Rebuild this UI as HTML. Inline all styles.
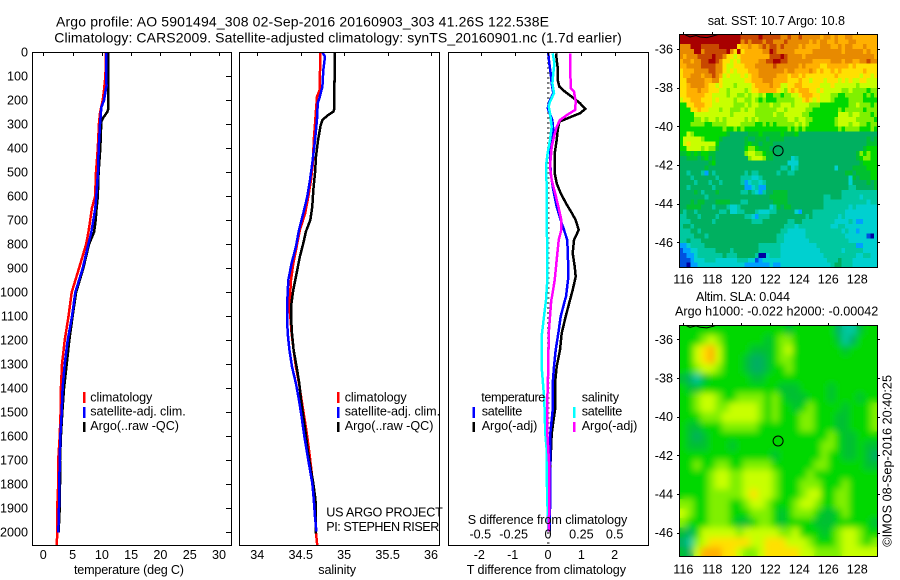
<!DOCTYPE html>
<html lang="en">
<head>
<meta charset="utf-8">
<title>Argo profile 5901494</title>
<style>
html,body{margin:0;padding:0;background:#fff;}
svg{display:block;}
text{font-family:"Liberation Sans",sans-serif;font-size:12.6px;fill:#000;}
text.big{font-size:14px;}
.frame{fill:none;stroke:#000;stroke-width:1;shape-rendering:crispEdges;}
.line{fill:none;stroke-width:2.5;shape-rendering:crispEdges;stroke-linejoin:miter;}
</style>
</head>
<body>
<svg id="chart" xmlns="http://www.w3.org/2000/svg" width="900" height="580" viewBox="0 0 900 580">
<defs>
<clipPath id="clip-temp"><rect x="32.5" y="52" width="199" height="493.5"/></clipPath>
<clipPath id="clip-sal"><rect x="239.5" y="52" width="200" height="493.5"/></clipPath>
<clipPath id="clip-diff"><rect x="448.5" y="52" width="200" height="493.5"/></clipPath>
<clipPath id="clip-map1"><rect x="679.5" y="34.5" width="198" height="233"/></clipPath>
<clipPath id="clip-map2"><rect x="679.5" y="325.5" width="198" height="231"/></clipPath>
<filter id="sla-smooth" x="-5%" y="-5%" width="110%" height="110%"><feGaussianBlur stdDeviation="3.5"/></filter>
</defs>
<rect x="0" y="0" width="900" height="580" fill="#fff"/>

<text class="big" x="56" y="26.7" textLength="493" lengthAdjust="spacing">Argo profile: AO 5901494_308 02-Sep-2016 20160903_303 41.26S 122.538E</text>
<text class="big" x="54.3" y="42.7" textLength="567.5" lengthAdjust="spacing">Climatology: CARS2009. Satellite-adjusted climatology: synTS_20160901.nc (1.7d earlier)</text>

<g id="heat1" clip-path="url(#clip-map1)"></g>
<g id="heat2base" clip-path="url(#clip-map2)"></g>
<g clip-path="url(#clip-map2)"><g id="heat2" filter="url(#sla-smooth)"></g></g>
<g id="coast1" clip-path="url(#clip-map1)"></g>
<g id="coast2" clip-path="url(#clip-map2)"></g>

<g id="lines1" clip-path="url(#clip-temp)"></g>
<g id="lines2" clip-path="url(#clip-sal)"></g>
<g id="lines3" clip-path="url(#clip-diff)"></g>

<rect class="frame" x="32.5" y="52.5" width="199" height="493"/>
<rect class="frame" x="239.5" y="52.5" width="200" height="493"/>
<rect class="frame" x="448.5" y="52.5" width="200" height="493"/>
<rect class="frame" x="679.5" y="34.5" width="198" height="233"/>
<rect class="frame" x="679.5" y="325.5" width="198" height="231"/>
<g id="axes"></g>

<text x="74" y="574" textLength="110" lengthAdjust="spacing">temperature (deg C)</text>
<text x="318.3" y="574" textLength="37.7" lengthAdjust="spacing">salinity</text>
<text x="466.7" y="574" textLength="159.3" lengthAdjust="spacing">T difference from climatology</text>
<text x="467.7" y="524" textLength="159.6" lengthAdjust="spacing">S difference from climatology</text>

<g>
<rect x="83" y="392" width="2.5" height="11" fill="#f00"/>
<rect x="83" y="407" width="2.5" height="11" fill="#00f"/>
<rect x="83" y="422" width="2.5" height="10" fill="#000"/>
<text x="90.3" y="401.7" textLength="62" lengthAdjust="spacing">climatology</text>
<text x="90.3" y="415.7" textLength="95.4" lengthAdjust="spacing">satellite-adj. clim.</text>
<text x="90.3" y="430" textLength="88.7" lengthAdjust="spacing">Argo(..raw -QC)</text>
</g>
<g>
<rect x="337" y="392" width="2.5" height="11" fill="#f00"/>
<rect x="337" y="407" width="2.5" height="11" fill="#00f"/>
<rect x="337" y="422" width="2.5" height="10" fill="#000"/>
<text x="344.7" y="401.7" textLength="62" lengthAdjust="spacing">climatology</text>
<text x="344.7" y="415.7" textLength="95.4" lengthAdjust="spacing">satellite-adj. clim.</text>
<text x="344.7" y="430" textLength="88.7" lengthAdjust="spacing">Argo(..raw -QC)</text>
</g>
<text x="326.3" y="516.7" textLength="116.5" lengthAdjust="spacing">US ARGO PROJECT</text>
<text x="326.3" y="531" textLength="113" lengthAdjust="spacing">PI: STEPHEN RISER</text>

<g>
<text x="481.3" y="401.7" textLength="64" lengthAdjust="spacing">temperature</text>
<rect x="472.5" y="407" width="2.5" height="11" fill="#00f"/>
<rect x="472.5" y="422" width="2.5" height="10" fill="#000"/>
<text x="481.7" y="415.7" textLength="40.6" lengthAdjust="spacing">satellite</text>
<text x="481.7" y="430" textLength="55.6" lengthAdjust="spacing">Argo(-adj)</text>
<text x="581.7" y="401.7" textLength="37.3" lengthAdjust="spacing">salinity</text>
<rect x="573" y="407" width="2.5" height="11" fill="#0ff"/>
<rect x="573" y="422" width="2.5" height="10" fill="#f0f"/>
<text x="581.7" y="415.7" textLength="40.6" lengthAdjust="spacing">satellite</text>
<text x="581.7" y="430" textLength="55.6" lengthAdjust="spacing">Argo(-adj)</text>
</g>

<text x="707.7" y="25" textLength="137.3" lengthAdjust="spacing">sat. SST: 10.7 Argo: 10.8</text>
<text x="696" y="301" textLength="94" lengthAdjust="spacing">Altim. SLA: 0.044</text>
<text x="675" y="315.7" textLength="203.3" lengthAdjust="spacing">Argo h1000: -0.022 h2000: -0.00042</text>
<text transform="translate(891.7 546.7) rotate(-90)" x="0" y="0" textLength="171.7" lengthAdjust="spacing">©IMOS 08-Sep-2016 20:40:25</text>
</svg>

<script>
// ---- tick values ----
const depthTicks = [0,100,200,300,400,500,600,700,800,900,1000,1100,1200,1300,1400,1500,1600,1700,1800,1900,2000];
const tempTicks = [0,5,10,15,20,25,30];
const salTicks = [34,34.5,35,35.5,36];
const tDiffTicks = [-2,-1,0,1,2];
const sDiffTicks = [-0.5,-0.25,0,0.25,0.5];
const lonTicks = [116,118,120,122,124,126,128];
const latTicks = [-36,-38,-40,-42,-44,-46];

// ---- temperature panel ----
const tempClimDepth = [0,100,150,200,250,300,400,500,600,650,700,750,800,900,1000,1100,1200,1300,1400,1500,1600,1700,1800,1900,2000,2054];
const tempClim = [10.7,10.6,10.4,10.15,9.7,9.5,9.3,9.0,8.85,8.3,8.0,7.7,7.3,6.1,4.85,4.3,3.65,3.2,3.0,2.95,2.8,2.55,2.55,2.38,2.38,2.3];
const tempArgoDepth = [0,240,250,270,290,400,500,600,650,700,750,800,900,1000,1100,1200,1300,1400,1500,1600,1700,1800,1900,2000];
const tempArgo = [11.05,11.05,10.9,10.3,9.9,9.74,9.45,9.3,9.1,8.95,8.66,7.8,6.83,5.6,5.0,4.44,4.0,3.53,3.25,3.0,2.85,2.85,2.8,2.62];
const tempSatDepth = [0,100,140,150,200,230,300,400,500,600,650,700,750,800,900,1000,1100,1200,1300,1400,1500,1600,1700,1800,1900,2000];
const tempSat = [10.7,10.7,10.8,10.7,10.36,9.9,9.68,9.46,9.34,9.05,8.88,8.54,8.2,7.68,6.72,5.47,4.9,4.16,3.65,3.3,3.14,2.9,2.8,2.74,2.68,2.56];

// ---- salinity panel ----
const salClimDepth = [0,157,185,282,365,462,532,601,671,740,810,879,949,1060,1101,1171,1240,1310,1379,1449,1518,1588,1657,1726,1796,1865,2003,2053];
const salClim = [34.725,34.718,34.687,34.668,34.65,34.64,34.618,34.587,34.55,34.49,34.453,34.415,34.388,34.37,34.38,34.395,34.418,34.445,34.48,34.51,34.54,34.57,34.595,34.618,34.64,34.664,34.676,34.69];
const salArgoDepth = [0,122,123,240,247,261,282,303,365,435,504,574,643,699,747,796,851,921,990,1060,1101,1171,1240,1310,1379,1449,1518,1588,1657,1726,1796,1865,2005];
const salArgo = [34.894,34.894,34.883,34.883,34.875,34.818,34.75,34.73,34.70,34.676,34.664,34.645,34.633,34.61,34.56,34.53,34.49,34.453,34.415,34.388,34.388,34.40,34.418,34.453,34.484,34.503,34.53,34.557,34.58,34.61,34.645,34.67,34.675];
const salSatDepth = [0,18,74,143,185,212,268,324,393,462,532,601,671,740,810,879,949,1060,1101,1171,1240,1310,1379,1449,1518,1588,1657,1726,1796,1865,1935,1997];
const salSat = [34.75,34.78,34.76,34.75,34.72,34.695,34.69,34.676,34.656,34.633,34.607,34.576,34.53,34.48,34.445,34.395,34.357,34.342,34.342,34.35,34.37,34.40,34.445,34.48,34.51,34.537,34.568,34.6,34.633,34.65,34.664,34.68];

// ---- difference panel ----
const zeroLineDepth = [0,2050];
const zeroLineDiff = [0,0];
const tSatDepth = [4,46,88,129,171,206,233,282,324,365,421,504,574,643,699,740,782,865,949,1018,1032,1101,1171,1240,1310,1379,1490,1588,1726,1865,1997];
const tSatDiff = [0.01,0.04,0.08,0.11,0.16,0.04,-0.01,0.13,0.16,0.11,0.06,0.08,0.16,0.26,0.38,0.48,0.58,0.60,0.60,0.54,0.51,0.38,0.31,0.23,0.18,0.14,0.14,0.07,0.06,0.07,0.04];
const tArgoDepth = [4,32,74,115,143,164,185,212,236,254,268,289,324,365,421,504,546,587,629,671,699,740,782,837,893,935,990,1032,1101,1171,1240,1310,1379,1490,1588,1726,1865,1997];
const tArgoDiff = [0.24,0.26,0.30,0.29,0.34,0.51,0.71,0.96,1.12,0.96,0.71,0.34,0.29,0.26,0.20,0.20,0.26,0.38,0.54,0.72,0.83,0.92,0.78,0.74,0.80,0.83,0.74,0.66,0.53,0.41,0.36,0.26,0.21,0.21,0.11,0.07,0.06,0.06];
const sSatDepth = [4,46,88,129,171,206,226,254,310,365,421,476,560,699,837,949,1032,1101,1171,1310,1365,1449,1588,1657,1754,1865,1997];
const sSatDiff = [0.035,0.048,0.04,0.033,0.045,0.015,0.005,0.015,0.028,0.015,-0.003,-0.015,-0.01,-0.01,-0.005,-0.005,-0.015,-0.03,-0.045,-0.048,-0.04,-0.028,-0.02,-0.01,-0.01,-0.005,0.0025];
const sArgoDepth = [4,150,164,206,240,262,282,310,352,393,476,532,587,643,699,740,782,865,949,1018,1032,1101,1171,1310,1449,1588,1726,1865,1997];
const sArgoDiff = [0.165,0.17,0.195,0.208,0.203,0.14,0.09,0.065,0.045,0.028,0.015,0.028,0.053,0.078,0.10,0.10,0.08,0.065,0.05,0.03,0.025,0.015,0.005,0.0025,-0.005,-0.005,0.01,0.01,0.005];

// ---- map values (colour-scale level per cell) ----
const sstLevels = [
[14,14,14,14,14,14,14,14,14,14,14,14,14,14,14,14,14,13,13,13,13,13,14,13,13,13,13,13,12,12,13,12,12,13,12,12,12,12,12,11,12,12,11,12,11,11,12,12,11,11,11,11,11,11,11],
[14,14,14,14,14,14,14,14,14,14,14,14,14,14,14,14,14,12,13,12,13,13,13,12,13,13,12,12,12,13,12,12,12,12,12,12,11,12,11,12,12,11,11,12,11,11,11,12,12,11,11,11,11,11,11],
[12,12,12,14,14,14,13,13,13,13,13,14,14,14,14,14,10,11,11,12,11,11,12,13,12,13,13,12,13,12,12,12,12,11,12,11,11,11,11,12,12,12,11,11,12,11,12,12,11,11,11,12,11,11,11],
[12,12,12,12,14,14,12,13,13,13,13,13,13,14,12,10,14,10,11,11,11,11,11,12,12,14,13,12,12,12,12,12,11,11,11,11,11,12,12,12,12,12,12,12,12,11,12,12,12,12,12,11,12,11,11],
[12,11,12,12,12,13,13,13,13,14,13,13,12,10,10,9,10,11,11,11,11,11,11,11,11,13,13,13,14,13,12,12,12,12,11,12,12,12,12,12,12,12,12,12,12,12,12,12,12,12,12,12,12,12,11],
[11,12,12,11,12,12,13,13,14,14,13,12,10,10,9,10,9,11,11,11,11,11,12,12,13,13,14,14,13,13,12,12,12,12,12,12,12,11,11,11,11,11,12,12,12,11,12,12,11,11,12,12,13,12,12],
[11,11,12,12,12,12,13,13,13,13,12,12,10,9,9,10,10,10,11,11,11,12,12,12,12,12,13,12,12,12,12,12,12,11,12,11,11,11,11,10,10,11,11,11,11,11,11,10,11,10,10,10,10,10,10],
[10,11,11,11,12,12,12,12,13,13,12,12,10,9,10,9,10,10,10,11,11,11,12,12,12,12,12,12,12,11,12,12,11,11,11,11,12,11,10,11,10,10,11,10,11,10,10,10,10,10,10,11,10,10,10],
[10,11,11,12,12,12,11,12,12,13,12,11,9,10,9,9,9,10,9,10,11,11,12,12,12,12,12,11,11,11,10,11,11,10,11,10,10,10,10,10,10,10,10,11,10,10,10,10,10,10,9,10,10,9,10],
[10,10,12,12,12,12,12,11,11,12,12,10,9,9,9,9,9,9,10,10,11,11,11,12,12,12,11,11,11,11,10,10,10,11,10,10,9,10,10,10,9,10,10,10,9,10,9,10,9,9,10,10,9,9,9],
[10,10,11,12,12,12,12,11,10,10,9,10,9,9,9,8,9,9,9,9,10,11,11,11,11,12,11,11,9,9,10,10,11,11,10,10,10,10,10,9,9,9,10,9,9,9,9,9,9,8,9,9,9,9,9],
[10,10,11,11,11,12,11,11,10,10,10,9,9,8,9,9,9,9,8,9,10,10,11,11,11,11,11,10,9,8,10,11,10,11,11,11,10,10,9,10,9,9,9,9,9,8,8,9,8,8,8,8,7,8,8],
[10,10,11,11,11,11,11,10,10,9,9,9,9,8,9,9,8,8,9,8,9,9,8,9,7,7,8,8,7,8,8,9,9,10,11,11,11,10,10,9,9,9,8,8,7,7,8,8,8,8,8,7,8,7,8],
[9,10,10,11,11,11,10,10,10,9,10,9,9,9,9,8,9,9,8,8,9,8,7,8,7,7,7,8,8,8,8,8,9,9,10,11,10,9,10,9,9,9,8,7,7,7,7,8,8,8,8,7,7,7,7],
[7,7,10,10,11,11,11,10,10,9,9,9,9,9,9,8,8,8,9,8,9,9,8,8,8,9,8,8,9,9,9,8,9,9,9,9,8,8,8,7,7,7,7,7,7,7,7,8,8,9,8,8,8,7,8],
[7,7,7,10,10,11,10,10,9,9,9,8,9,9,8,8,8,9,8,9,9,8,8,8,8,8,8,9,9,8,9,9,9,9,9,8,8,7,7,7,7,7,7,7,8,7,8,8,8,8,8,7,8,8,8],
[7,7,7,7,9,9,9,9,9,9,9,9,9,9,8,9,9,9,9,9,9,8,8,8,8,8,9,8,8,9,9,9,9,9,8,8,7,7,7,7,7,7,7,7,9,9,9,8,9,9,8,8,8,7,8],
[7,7,7,7,8,8,9,8,9,9,8,9,8,9,9,9,9,9,8,9,8,9,8,8,8,8,8,8,8,8,9,9,8,9,9,8,8,7,7,7,7,7,7,8,9,9,9,9,9,8,8,8,8,8,7],
[7,7,7,8,8,8,8,7,7,8,8,8,8,9,9,9,9,8,8,8,8,7,7,8,7,8,7,8,8,8,8,8,9,8,9,8,7,7,7,7,7,7,7,8,9,9,9,8,9,9,8,8,7,8,8],
[7,7,7,7,7,7,7,7,7,7,7,7,8,7,7,8,7,8,7,7,7,7,7,7,7,7,7,7,7,7,8,7,8,7,8,7,7,7,7,7,7,7,7,7,8,7,8,8,8,8,7,7,7,8,7],
[7,7,9,8,7,7,7,7,7,7,7,7,7,6,5,5,5,5,5,6,6,6,7,6,6,6,6,6,7,6,6,6,7,5,5,5,5,5,5,5,5,5,5,5,5,5,5,5,5,5,5,5,5,5,5],
[7,9,9,9,9,9,8,7,7,7,7,6,5,5,5,5,5,5,6,5,5,6,6,6,5,6,6,6,6,5,5,5,5,5,5,5,5,5,5,5,5,5,5,5,5,5,5,5,5,5,5,5,6,5,6],
[7,9,10,9,9,9,9,9,9,9,7,5,5,5,5,5,5,5,6,7,6,6,5,6,6,6,5,5,5,5,5,5,5,5,5,5,5,5,5,5,5,5,5,5,5,5,5,5,5,5,5,5,6,6,6],
[7,7,9,9,9,9,8,9,8,8,6,5,5,5,5,5,5,5,7,8,8,7,6,6,6,5,5,5,5,5,5,5,5,5,5,5,5,5,5,5,5,5,5,5,5,5,5,5,5,5,5,6,7,7,7],
[6,6,7,6,7,6,7,7,6,6,5,5,5,5,5,5,5,5,8,9,9,8,8,7,6,6,5,5,5,5,5,5,5,5,5,5,5,5,5,5,5,5,5,5,5,5,5,5,5,6,8,7,8,7,7],
[5,5,6,6,6,5,6,7,5,6,5,5,5,5,5,5,5,5,5,8,9,9,9,8,6,6,5,5,5,5,5,3,4,5,5,5,5,5,5,5,5,5,5,5,5,5,5,5,5,6,7,8,8,7,7],
[5,5,5,5,5,5,5,5,6,7,5,5,5,5,5,5,5,5,5,5,5,5,5,5,5,5,5,5,5,5,3,3,3,5,5,5,5,5,5,5,5,5,5,5,5,5,5,5,5,5,6,7,7,7,7],
[5,5,5,5,5,5,5,6,5,5,5,5,5,5,5,5,5,5,5,5,5,5,5,5,5,5,5,5,4,4,5,3,4,5,5,5,5,5,5,5,5,5,5,3,5,5,5,5,6,6,6,6,7,7,7],
[5,5,4,5,5,5,4,2,5,4,5,5,5,5,5,5,5,5,4,5,4,4,5,5,5,5,5,4,5,5,4,4,5,5,5,5,5,5,5,5,5,5,5,5,5,5,6,6,5,6,6,6,6,7,7],
[5,5,5,4,5,5,5,5,5,5,4,5,5,5,5,5,5,4,4,4,3,3,4,5,5,5,5,5,5,5,5,5,5,5,5,5,5,5,5,5,5,5,5,5,5,5,5,3,6,5,6,6,6,7,7],
[5,5,5,5,4,5,5,5,4,5,5,4,5,5,5,5,5,4,2,3,4,4,3,4,5,5,5,5,5,5,5,5,5,5,5,5,5,5,5,5,5,5,5,5,5,5,5,3,5,5,5,5,6,5,6],
[5,5,4,5,5,5,5,5,5,4,5,5,5,5,5,5,5,5,2,2,3,4,2,2,5,5,5,5,5,5,5,5,5,5,5,5,5,5,5,5,5,5,5,5,5,5,5,4,4,5,5,5,5,5,6],
[5,5,5,5,6,5,4,5,5,5,6,5,5,5,5,5,5,4,4,5,4,3,2,4,5,5,6,6,6,6,5,5,5,5,5,5,5,5,5,5,5,5,5,5,5,4,4,4,4,4,4,4,4,4,4],
[5,5,5,5,5,5,5,4,5,5,5,5,5,5,5,5,5,5,5,5,5,5,5,5,5,6,6,6,6,6,5,5,5,5,5,5,5,5,5,5,4,4,5,5,5,4,4,4,4,4,3,4,4,4,4],
[5,5,5,6,5,6,6,5,5,5,6,6,6,6,5,5,5,4,4,5,5,5,5,5,5,5,6,6,6,6,5,5,5,5,5,5,5,5,5,5,4,4,4,4,4,4,4,4,4,4,4,4,3,4,4],
[5,5,6,6,6,6,5,5,5,4,5,5,5,4,3,3,4,5,5,5,5,5,5,5,5,3,4,6,5,6,6,5,5,5,5,5,5,5,5,5,4,4,4,4,4,4,4,3,4,3,3,3,3,3,3],
[5,4,5,5,4,5,5,5,5,5,5,4,4,5,3,3,4,4,5,5,5,4,3,3,3,4,4,5,5,5,5,5,3,2,5,5,5,4,4,4,4,4,4,4,4,4,3,3,3,3,3,3,3,3,3],
[4,4,5,5,5,4,5,5,5,5,4,5,5,5,5,5,5,5,4,4,3,2,4,4,4,5,5,5,5,5,5,5,5,5,5,4,5,4,4,4,4,4,4,4,3,4,3,3,3,3,3,3,3,3,3],
[4,4,4,5,5,5,5,5,5,4,5,5,5,5,5,5,5,5,5,5,4,4,4,5,5,5,5,5,5,5,4,4,5,5,4,4,4,4,4,4,4,4,4,3,3,3,3,4,3,2,2,3,3,3,3],
[4,5,5,4,5,5,5,5,5,5,5,5,5,5,5,5,5,5,5,5,5,5,5,5,5,5,5,5,5,4,4,4,3,4,4,4,4,4,4,4,4,4,3,3,4,4,3,3,3,3,3,3,3,3,3],
[4,4,4,5,5,4,5,5,5,5,5,5,5,5,5,5,5,5,5,5,5,5,5,5,5,5,5,5,4,4,3,3,3,3,3,4,4,4,4,4,4,4,4,4,4,3,4,3,3,2,3,3,3,3,3],
[4,4,4,4,5,5,5,4,5,5,5,5,5,5,5,5,5,5,5,5,5,5,5,5,5,5,5,4,4,3,3,3,3,3,3,4,4,4,4,4,4,4,4,4,4,4,3,3,3,3,3,3,1,0,3],
[4,4,5,4,4,4,5,5,5,5,5,5,5,5,5,5,5,5,5,5,5,5,5,5,5,5,5,4,4,3,3,3,3,3,3,3,4,4,4,4,4,4,4,4,4,4,4,3,3,3,3,3,3,3,3],
[2,2,3,4,4,4,4,5,5,5,5,5,5,5,5,5,5,5,5,5,5,5,4,4,4,4,4,4,3,3,3,3,3,3,3,3,3,3,4,4,4,4,4,4,4,4,4,4,4,2,2,3,3,3,3],
[1,2,2,3,3,4,4,4,4,4,5,5,5,5,4,5,5,5,5,5,5,5,4,4,4,4,4,4,3,3,3,3,3,3,3,3,3,3,3,4,4,4,4,4,4,3,4,4,4,4,4,3,3,3,3],
[1,1,2,2,3,4,4,4,4,4,4,4,5,4,4,4,5,5,5,5,5,4,0,0,3,4,4,4,3,3,3,3,3,3,3,3,3,3,3,3,4,4,4,4,4,4,4,4,4,3,3,4,4,3,3],
[1,1,1,2,3,3,3,4,4,4,3,3,3,3,3,3,4,4,4,3,3,1,2,3,3,3,3,3,3,3,3,3,3,3,3,3,3,3,3,3,3,4,4,4,5,4,4,4,3,3,3,3,3,3,3],
[1,1,0,2,2,3,3,3,3,3,3,3,3,3,3,3,3,3,2,2,2,2,2,2,2,3,2,2,3,3,3,3,3,3,3,3,3,3,3,3,3,3,4,5,5,4,4,4,3,3,3,3,3,3,3]
];
const slaLevels = [
[7,7,7,7,7,7,7,7,7,7,7,7,7,7,7,6,7,7,7,7,7,7,5,4,4,6,7,7],
[7,7,7,8,9,8,7,7,7,7,7,7,6,7,8,8,7,7,7,7,7,7,6,4,5,7,7,7],
[7,7,9,10,11,9,7,7,7,7,6,6,6,7,8,9,7,7,7,7,7,7,7,6,7,7,7,7],
[7,7,9,10,11,9,7,7,7,6,5,5,6,7,8,8,7,7,7,7,7,7,7,7,7,7,7,7],
[7,7,8,9,9,8,7,7,7,6,5,5,6,7,7,8,7,7,7,7,7,7,7,7,7,7,7,7],
[6,5,4,6,7,7,7,7,7,7,6,6,7,7,7,7,7,7,7,7,7,7,7,7,7,7,7,7],
[7,6,6,7,7,7,7,7,7,7,7,7,7,7,6,6,6,7,7,7,7,6,7,7,7,7,7,7],
[7,7,8,9,9,8,7,7,8,8,8,8,7,8,7,6,6,6,7,7,7,6,7,7,7,6,7,7],
[7,7,8,9,9,8,8,9,9,9,9,8,7,8,7,7,6,7,8,7,7,7,7,6,7,7,7,8],
[7,7,7,8,8,8,9,9,9,9,9,8,7,8,7,7,7,8,8,7,7,7,6,6,7,7,7,8],
[7,6,6,7,7,7,8,8,8,8,8,7,7,7,7,7,7,8,8,7,7,7,6,6,7,7,7,8],
[7,6,5,6,7,7,7,7,7,7,7,7,7,7,7,7,7,7,7,7,7,8,7,6,6,7,7,7],
[7,6,6,6,7,7,7,6,7,7,7,7,7,7,7,7,7,7,7,7,8,8,7,6,6,7,6,6],
[7,7,7,7,7,7,7,7,7,7,7,7,7,6,7,7,7,7,7,7,8,7,7,6,6,7,6,5],
[7,7,8,7,7,8,8,7,7,8,8,8,8,7,7,7,7,7,7,8,8,7,7,7,7,7,6,6],
[7,7,7,7,8,9,9,8,8,9,9,9,9,8,7,7,7,7,8,7,7,7,7,7,7,7,7,7],
[7,7,7,7,8,9,9,8,8,9,9,9,9,8,7,7,7,8,8,8,7,7,7,8,7,7,7,7],
[7,7,7,7,8,8,8,8,8,9,10,9,9,8,7,7,7,8,9,9,7,7,8,8,7,7,7,7],
[8,8,7,7,8,8,8,7,7,8,9,9,8,7,7,7,8,9,9,8,7,7,8,8,7,7,7,7],
[9,8,7,7,8,8,8,7,7,7,8,8,8,7,6,7,8,8,8,7,6,6,7,8,7,7,7,7],
[8,7,7,7,8,8,8,7,6,6,7,8,8,7,6,7,7,7,7,6,6,6,7,7,7,7,7,6],
[6,5,7,9,9,9,9,9,8,9,9,9,9,9,8,8,9,7,7,7,6,7,8,9,9,8,7,7],
[5,4,8,9,10,10,10,10,10,10,9,9,10,10,10,9,9,9,8,7,7,7,8,9,9,8,7,8],
[6,5,9,11,11,11,10,10,9,8,8,9,10,10,10,10,10,9,9,8,8,8,8,9,9,9,9,9]
];
const coastLon = [115.7,116,116.46,116.88,117.15,117.63,118.05,118.53];
const coastLat = [-35.2,-35.22,-35.38,-35.30,-35.38,-35.41,-35.33,-35.22];
const floatLon = 122.538;
const floatLat = -41.26;

// ---- axis functions ----
const tempX = v => 43.3 + v * 5.857;
const salX = v => 257.3 + (v - 34) * 86.85;
const tDiffX = v => 548 + v * 33.33;
const sDiffX = v => 548 + v * 133.33;
const depthY = d => 52.3 + d * 0.24;
const lonX = v => 683.3 + (v - 116) * 14.5;
const lat1Y = v => 49 + (-36 - v) * 19.33;
const lat2Y = v => 339.3 + (-36 - v) * 19.33;

const NS = 'http://www.w3.org/2000/svg';
function levelColor(v) {
  const scale = ['#0000a0','#0050e0','#00a0ff','#00d0d0','#00c8a0','#00b060','#00c030','#00d800','#80f000','#c8ff00','#ffe000','#ffb000','#e88a00','#c84800','#a80000'];
  return scale[Math.max(0, Math.min(scale.length - 1, Math.round(v)))];
}
function mk(tag, parent) {
  const el = document.createElementNS(NS, tag);
  parent.appendChild(el);
  return el;
}
function series(parentId, name, color, depths, values, xFn, width) {
  const el = mk('polyline', document.getElementById(parentId));
  
  
  el.setAttribute('class', 'line');
  el.setAttribute('stroke', color);
  if (width) el.setAttribute('stroke-width', width);
  el.setAttribute('points', values.map((v, i) => xFn(v).toFixed(1) + ',' + depthY(depths[i]).toFixed(1)).join(' '));
  return el;
}

// temperature
series('lines1', 'series-temperature-climatology', '#f00', tempClimDepth, tempClim, tempX);
series('lines1', 'series-temperature-argo', '#000', tempArgoDepth, tempArgo, tempX);
series('lines1', 'series-temperature-satellite', '#00f', tempSatDepth, tempSat, tempX);
// salinity
series('lines2', 'series-salinity-climatology', '#f00', salClimDepth, salClim, salX);
series('lines2', 'series-salinity-argo', '#000', salArgoDepth, salArgo, salX);
series('lines2', 'series-salinity-satellite', '#00f', salSatDepth, salSat, salX);
// differences
const zero = series('lines3', 'zero-difference-line', '#000', zeroLineDepth, zeroLineDiff, tDiffX, 1);
zero.setAttribute('stroke-dasharray', '1 4');
series('lines3', 'series-t-diff-argo', '#000', tArgoDepth, tArgoDiff, tDiffX);
series('lines3', 'series-t-diff-satellite', '#00f', tSatDepth, tSatDiff, tDiffX);
series('lines3', 'series-s-diff-satellite', '#0ff', sSatDepth, sSatDiff, sDiffX);
series('lines3', 'series-s-diff-argo', '#f0f', sArgoDepth, sArgoDiff, sDiffX);

// heatmaps
function heat(parentId, rows, x0, y0, w, h) {
  const parent = document.getElementById(parentId);
  const ch = h / rows.length;
  rows.forEach((row, r) => {
    const cw = w / row.length;
    row.forEach((v, c) => {
      const cell = mk('rect', parent);
      
      
      cell.setAttribute('x', (x0 + c * cw).toFixed(2));
      cell.setAttribute('y', (y0 + r * ch).toFixed(2));
      cell.setAttribute('width', (cw + 0.4).toFixed(2));
      cell.setAttribute('height', (ch + 0.4).toFixed(2));
      cell.setAttribute('fill', levelColor(v));
      cell.setAttribute('shape-rendering', 'crispEdges');
    });
  });
}
heat('heat1', sstLevels, 679.5, 34.5, 198, 233);
heat('heat2base', slaLevels, 679.5, 325.5, 198, 231);
heat('heat2', slaLevels, 679.5, 325.5, 198, 231);

// coast and float markers
function overlay(parentId, yFn) {
  const parent = document.getElementById(parentId);
  const coast = mk('polyline', parent);
  
  
  coast.setAttribute('fill', 'none');
  coast.setAttribute('stroke', '#000');
  coast.setAttribute('points', coastLon.map((v, i) => lonX(v).toFixed(1) + ',' + yFn(coastLat[i]).toFixed(1)).join(' '));
  const c = mk('circle', parent);
  
  
  c.setAttribute('cx', lonX(floatLon).toFixed(1));
  c.setAttribute('cy', yFn(floatLat).toFixed(1));
  c.setAttribute('r', '5');
  c.setAttribute('fill', 'none');
  c.setAttribute('stroke', '#000');
}
overlay('coast1', lat1Y);
overlay('coast2', lat2Y);

// axes
const axes = document.getElementById('axes');
function tick(x1, y1, x2, y2) {
  const t = mk('line', axes);
  
  
  t.setAttribute('x1', x1);
  t.setAttribute('y1', y1);
  t.setAttribute('x2', x2);
  t.setAttribute('y2', y2);
  t.setAttribute('stroke', '#000');
  t.setAttribute('shape-rendering', 'crispEdges');
}
function label(str, x, y, anchor) {
  const t = mk('text', axes);
  
  
  t.setAttribute('x', x);
  t.setAttribute('y', y);
  t.setAttribute('text-anchor', anchor);
  t.textContent = str;
}
depthTicks.forEach(d => {
  const y = Math.round(depthY(d) - 0.3) + 0.5;
  if (d > 0) tick(226, y, 231, y);
  label(String(d), 28, depthY(d) + 4, 'end');
});
tempTicks.forEach(v => {
  const x = Math.round(tempX(v)) + 0.5;
  tick(x, 53, x, 56);
  label(String(v), tempX(v), 559, 'middle');
});
salTicks.forEach(v => {
  const x = Math.round(salX(v)) + 0.5;
  tick(x, 53, x, 56);
  label(String(v), salX(v), 559, 'middle');
});
tDiffTicks.forEach(v => {
  const x = Math.round(tDiffX(v)) + 0.5;
  tick(x, 53, x, 56);
  label(String(v), tDiffX(v) - (v < 0 ? 2 : 0), 559, 'middle');
});
sDiffTicks.forEach(v => {
  label(String(v), sDiffX(v) - (v < 0 ? 1 : 0), 538.7, 'middle');
});
lonTicks.forEach(v => {
  const x = Math.round(lonX(v)) + 0.5;
  tick(x, 32, x, 34);
  tick(x, 323, x, 325);
  label(String(v), lonX(v), 283.3, 'middle');
  label(String(v), lonX(v), 573.3, 'middle');
});
latTicks.forEach(v => {
  const y1 = Math.round(lat1Y(v)) + 0.5;
  const y2 = Math.round(lat2Y(v)) + 0.5;
  tick(677, y1, 679, y1);
  tick(878, y1, 880, y1);
  tick(677, y2, 679, y2);
  tick(878, y2, 880, y2);
  label(String(v), 673, lat1Y(v) + 4.5, 'end');
  label(String(v), 673, lat2Y(v) + 4.5, 'end');
});
</script>
</body>
</html>
